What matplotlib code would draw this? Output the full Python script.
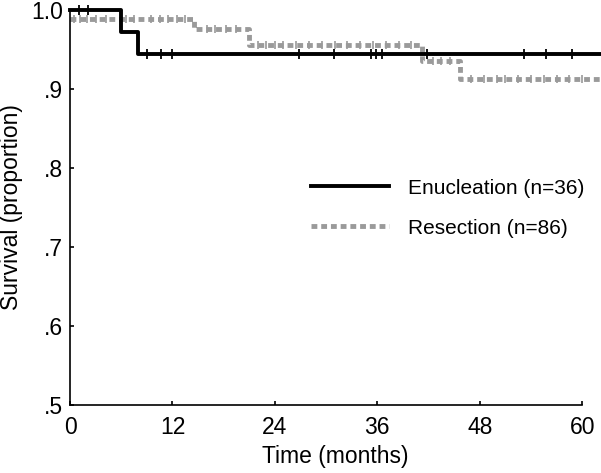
import matplotlib
matplotlib.use("Agg")
import matplotlib.pyplot as plt

plt.rcParams['font.family'] = ['Liberation Sans', 'DejaVu Sans']

# Enucleation (n=36): step times / survival levels, censor times
enu_t = [0, 6, 8, 62.2]
enu_s = [1.0, 0.972, 0.944, 0.944]
enu_cens = [1.1, 2.1, 9.0, 10.6, 12.0, 26.8, 30.9, 35.2, 35.8, 36.5, 41.8, 53.2, 55.8, 58.8]

# Resection (n=86)
res_t = [0, 14.5, 21.0, 41.2, 45.7, 62.2]
res_s = [0.988, 0.976, 0.956, 0.935, 0.912, 0.912]
res_cens = [0.5, 1.2, 2.0, 3.0, 4.2, 6.5, 7.5, 9.5, 10.5, 11.5, 12.5, 13.5,
            16.0, 17.0, 18.3, 19.5, 22.0, 23.0, 24.0, 25.0, 26.5, 28.0, 29.5,
            31.0, 32.5, 34.0, 35.5, 37.0, 38.5, 40.0,
            42.5, 43.5, 44.5, 47.0, 48.5, 50.0, 51.0, 52.5, 54.0, 55.5, 57.0, 58.5, 60.0]

xticks = [0, 12, 24, 36, 48, 60]
yticks = [0.5, 0.6, 0.7, 0.8, 0.9, 1.0]
ylabels = ['.5', '.6', '.7', '.8', '.9', '1.0']


def level_at(t, ts, ss):
    v = ss[0]
    for a, b in zip(ts, ss):
        if a <= t:
            v = b
    return v


fig = plt.figure(figsize=(6.01, 4.73), dpi=100)
ax = fig.add_axes([0.1165, 0.144, 0.8835, 0.835])

grey = '#9a9a9a'
ax.step(res_t, res_s, where='post', color=grey, lw=3.5, linestyle=(0, (1.2, 0.8)),
        clip_on=False, zorder=2, label='Resection (n=86)')
ax.plot(res_cens, [level_at(t, res_t, res_s) for t in res_cens], ls='none',
        marker='|', ms=6, mew=1.2, color=grey, clip_on=False, zorder=2)

ax.step(enu_t, enu_s, where='post', color='black', lw=2.8, clip_on=False, zorder=3,
        label='Enucleation (n=36)')
ax.plot(enu_cens, [level_at(t, enu_t, enu_s) for t in enu_cens], ls='none',
        marker='|', ms=7, mew=1.3, color='black', clip_on=False, zorder=3)

ax.set_xlim(0, 62.2)
ax.set_ylim(0.5, 1.0)
ax.set_xticks(xticks)
ax.set_yticks(yticks)
ax.set_yticklabels(ylabels)
ax.tick_params(labelsize=16.5, length=3, width=1.2, direction='in', pad=5)
ax.tick_params(axis='x', pad=8)

for s in ['top', 'right']:
    ax.spines[s].set_visible(False)
ax.spines['bottom'].set_bounds(0, 60)
ax.spines['left'].set_linewidth(1.2)
ax.spines['bottom'].set_linewidth(1.2)

ax.set_xlabel('Time (months)', fontsize=16.5, labelpad=4)
ax.set_ylabel('Survival (proportion)', fontsize=16.5, labelpad=6)

h, l = ax.get_legend_handles_labels()
ax.legend([h[1], h[0]], [l[1], l[0]], frameon=False, fontsize=15,
          loc='upper left', bbox_to_anchor=(0.418, 0.62), handlelength=3.75,
          handletextpad=0.9, labelspacing=1.0)

fig.savefig('out.png', dpi=100)
